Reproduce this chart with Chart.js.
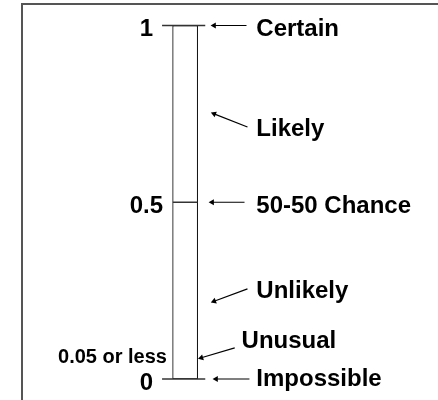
<!DOCTYPE html>
<html><head><meta charset="utf-8">
<script src="https://cdn.jsdelivr.net/npm/chart.js@4"></script>
<style>html,body{margin:0;padding:0;background:#fff;overflow:hidden}#wrap{width:438px;height:400px;position:relative}</style>
</head><body><div id="wrap"><canvas id="c" width="438" height="400"></canvas></div>
<script>
// ---- data ----
const scaleTickValues = [0, 0.5, 1];
const scaleTickLabels = ['0', '0.5', '1'];
const categories = ['Certain', 'Likely', '50-50 Chance', 'Unlikely', 'Unusual', 'Impossible'];
const arrowTargetValues = [1, 0.75, 0.5, 0.22, 0.06, 0];
const arrowTailValues = [1, 0.713, 0.5, 0.255, 0.088, 0];
const labelValues = [1, 0.717, 0.5, 0.259, 0.117, 0.01];
const thresholdLabel = '0.05 or less';
const thresholdLabelValue = 0.065;
const barRange = [0, 1];

// ---- layout (pixel-like x units on a 0..438 horizontal scale) ----
const BAR_X = 184.5, BAR_W = 25;
const HEAD_X = [214, 214, 212, 214, 201, 216];
const TAIL_X = [247, 248, 245, 248, 235, 250];
const LABEL_X = [257, 257, 257, 257, 242, 257];
const TICK_LABEL_X = 145;
const THRESH_X = 166;
const BIG = 24, SMALL = 20, TEXT_SHIFT = 2;
const fontOf = s => 'bold ' + s + 'px "Liberation Sans", Arial, sans-serif';

const datasets = [];
datasets.push({
  type: 'bar', data: [{x: BAR_X, y: barRange}], backgroundColor: '#fff',
  borderColor: '#000', borderWidth: 1, borderSkipped: false, barThickness: BAR_W, order: 10
});
scaleTickValues.forEach(v => {
  const inner = v !== 0 && v !== 1;
  const x0 = inner ? BAR_X - BAR_W / 2 : 161, x1 = inner ? BAR_X + BAR_W / 2 : 205;
  datasets.push({type: 'line', data: [{x: x0, y: v}, {x: x1, y: v}], borderColor: '#333',
    borderWidth: 1.5, pointRadius: 0, clip: false, order: 1});
});
categories.forEach((c, i) => {
  datasets.push({
    type: 'line', data: [{x: TAIL_X[i], y: arrowTailValues[i]}, {x: HEAD_X[i], y: arrowTargetValues[i]}],
    borderColor: '#000', borderWidth: 1.2, pointRadius: [0, 3.5], pointStyle: 'triangle',
    pointBackgroundColor: '#000', pointBorderColor: '#000', pointBorderWidth: 0, clip: false, order: 1,
    pointRotation: (ctx) => {
      const ch = ctx.chart, sx = ch.scales.x, sy = ch.scales.y;
      if (!sx || !sy) return 0;
      const dx = sx.getPixelForValue(HEAD_X[i]) - sx.getPixelForValue(TAIL_X[i]);
      const dy = sy.getPixelForValue(arrowTargetValues[i]) - sy.getPixelForValue(arrowTailValues[i]);
      return Math.atan2(dx, -dy) * 180 / Math.PI;
    }
  });
});

const textPlugin = {
  id: 'texts',
  beforeDraw(chart) {
    const ctx = chart.ctx;
    ctx.save();
    ctx.strokeStyle = '#555'; ctx.lineWidth = 2;
    ctx.beginPath(); ctx.moveTo(22, 410); ctx.lineTo(22, 4); ctx.lineTo(450, 4); ctx.stroke();
    ctx.restore();
  },
  afterDraw(chart) {
    const ctx = chart.ctx, sy = chart.scales.y, sx = chart.scales.x;
    ctx.save();
    ctx.fillStyle = '#000'; ctx.textBaseline = 'alphabetic';
    ctx.font = fontOf(BIG); const cap = BIG * 0.716 / 2 + TEXT_SHIFT;
    ctx.textAlign = 'left';
    categories.forEach((c, i) => ctx.fillText(c, sx.getPixelForValue(LABEL_X[i]), sy.getPixelForValue(labelValues[i]) + cap));
    ctx.textAlign = 'center';
    scaleTickValues.forEach((v, i) => ctx.fillText(scaleTickLabels[i], sx.getPixelForValue(TICK_LABEL_X), sy.getPixelForValue(v) + cap));
    ctx.font = fontOf(SMALL); ctx.textAlign = 'right';
    ctx.fillText(thresholdLabel, sx.getPixelForValue(THRESH_X), sy.getPixelForValue(thresholdLabelValue) + SMALL * 0.716 / 2);
    ctx.restore();
  }
};

new Chart(document.getElementById('c'), {
  type: 'bar',
  data: {datasets},
  options: {
    responsive: false, animation: false,
    layout: {padding: {top: 25.5, bottom: 21, left: 0, right: 0}},
    plugins: {legend: {display: false}, tooltip: {enabled: false}},
    scales: {
      x: {type: 'linear', min: 0, max: 438, display: false, offset: false},
      y: {type: 'linear', min: 0, max: 1, display: false}
    }
  },
  plugins: [textPlugin]
});
</script></body></html>
